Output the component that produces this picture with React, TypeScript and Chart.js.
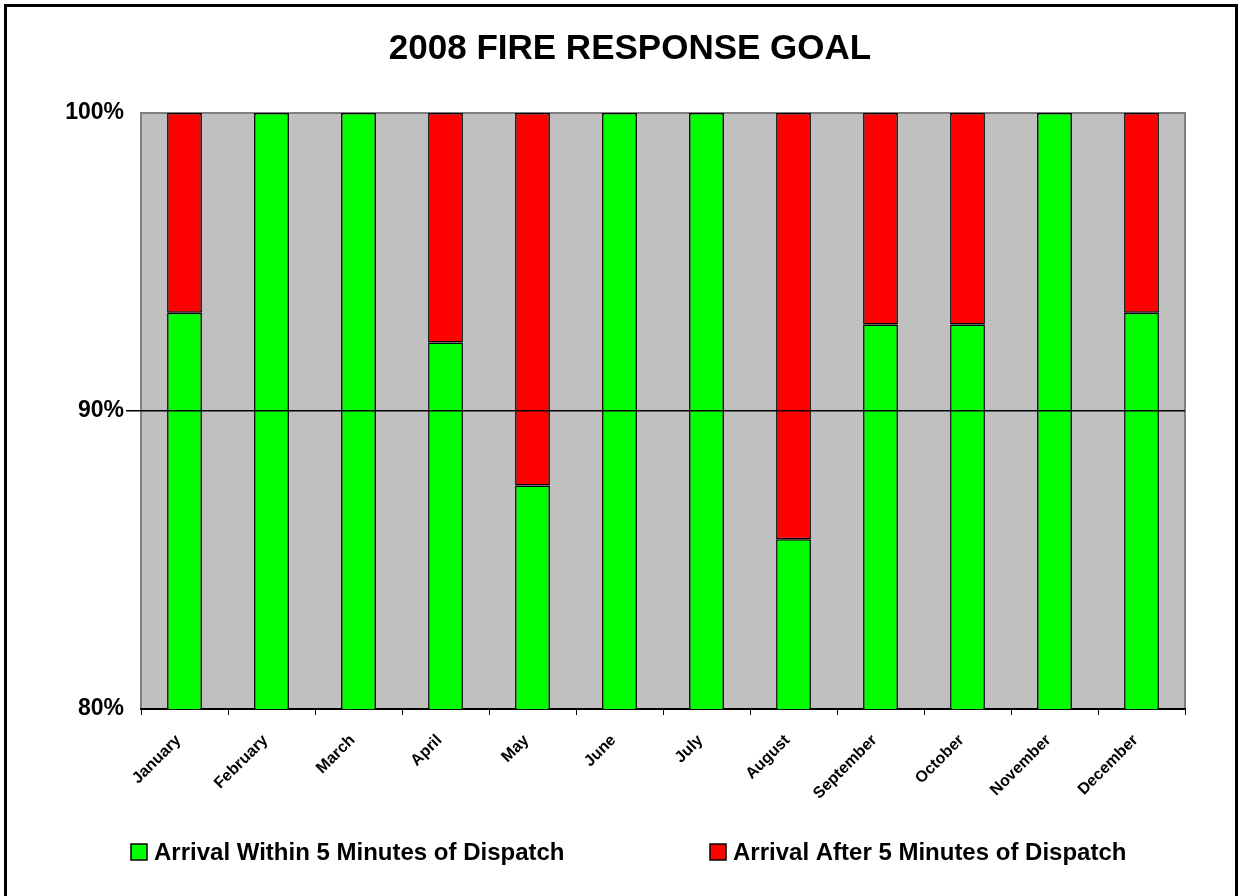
import React, { useEffect, useRef } from "react";
import { Chart, registerables } from "chart.js";

Chart.register(...registerables);

const titleText = "2008 FIRE RESPONSE GOAL";
const months = [
  "January", "February", "March", "April", "May", "June",
  "July", "August", "September", "October", "November", "December",
];
const withinLabel = "Arrival Within 5 Minutes of Dispatch";
const afterLabel = "Arrival After 5 Minutes of Dispatch";
const withinValues = [93.3, 100, 100, 92.3, 87.5, 100, 100, 85.7, 92.9, 92.9, 100, 93.3];
const afterValues = [6.7, 0, 0, 7.7, 12.5, 0, 0, 14.3, 7.1, 7.1, 0, 6.7];
const yTickValues = [80, 90, 100];

const FONT = "'Liberation Sans', Arial, Helvetica, sans-serif";
const GREEN = "#00FF00";
const RED = "#FF0000";

const plotBackground = {
  id: "plotBackground",
  beforeDraw(chart: any) {
    const { ctx, chartArea } = chart;
    if (!chartArea) return;
    ctx.save();
    ctx.fillStyle = "#C0C0C0";
    ctx.fillRect(chartArea.left, chartArea.top, chartArea.right - chartArea.left, chartArea.bottom - chartArea.top);
    ctx.strokeStyle = "#808080";
    ctx.lineWidth = 2;
    ctx.strokeRect(chartArea.left, chartArea.top, chartArea.right - chartArea.left, chartArea.bottom - chartArea.top);
    ctx.restore();
  },
};

const bottomLegend = {
  id: "bottomLegend",
  afterDraw(chart: any, _args: any, opts: any) {
    const { ctx } = chart;
    ctx.save();
    ctx.font = `bold ${opts.fontSize}px ${FONT}`;
    ctx.textBaseline = "middle";
    ctx.textAlign = "left";
    const y = opts.y;
    chart.data.datasets.forEach((ds: any, i: number) => {
      const x = opts.starts[i];
      ctx.fillStyle = ds.backgroundColor;
      ctx.fillRect(x, y - opts.box / 2, opts.box, opts.box);
      ctx.strokeStyle = "#000";
      ctx.lineWidth = 1.5;
      ctx.strokeRect(x, y - opts.box / 2, opts.box, opts.box);
      ctx.fillStyle = "#000";
      ctx.fillText(ds.label, x + opts.box + opts.gap, y + 1);
    });
    ctx.restore();
  },
};

export default function App() {
  const canvasRef = useRef<HTMLCanvasElement | null>(null);

  useEffect(() => {
    if (!canvasRef.current) return;
    const chart = new Chart(canvasRef.current, {
      type: "bar",
      data: {
        labels: months,
        datasets: [
          {
            label: withinLabel,
            data: withinValues,
            backgroundColor: GREEN,
            borderColor: "#000",
            borderWidth: 1.5,
            borderSkipped: false,
            barPercentage: 0.4,
            categoryPercentage: 1,
          },
          {
            label: afterLabel,
            data: afterValues,
            backgroundColor: RED,
            borderColor: "#000",
            borderWidth: 1.5,
            borderSkipped: false,
            barPercentage: 0.4,
            categoryPercentage: 1,
          },
        ],
      },
      options: {
        animation: false,
        responsive: true,
        maintainAspectRatio: false,
        layout: { padding: { left: 58, right: 40, top: 0, bottom: 87 } },
        plugins: {
          legend: { display: false },
          tooltip: { enabled: false },
          title: {
            display: true,
            text: titleText,
            color: "#000",
            font: { family: FONT, size: 35, weight: "bold", lineHeight: 1.2 },
            padding: { top: 21, bottom: 43 },
          },
          bottomLegend: { fontSize: 24, box: 16, gap: 7, starts: [124, 703], y: 845 },
        } as any,
        scales: {
          x: {
            stacked: true,
            afterFit: (s: any) => { s.height = 100; },
            grid: { drawOnChartArea: false, color: "#000", tickLength: 6, offset: true },
            border: { display: true, color: "#000", width: 2 },
            ticks: {
              color: "#000",
              font: { family: FONT, size: 16, weight: "bold" },
              maxRotation: 45,
              minRotation: 45,
              padding: 16,
              labelOffset: -6,
              autoSkip: false,
            },
          },
          y: {
            stacked: true,
            min: 80,
            max: 100,
            afterFit: (s: any) => { s.width = 76; },
            afterBuildTicks: (s: any) => { s.ticks = yTickValues.map((v) => ({ value: v })); },
            border: { display: false },
            grid: {
              z: 1,
              tickLength: 15,
              lineWidth: 1.5,
              color: (c: any) => (c.tick && c.tick.value === 90 ? "#000" : "rgba(0,0,0,0)"),
            },
            ticks: {
              color: "#000",
              padding: 2,
              font: { family: FONT, size: 23, weight: "bold" },
              callback: (v: any) => `${v}%`,
            },
          },
          yRight: {
            position: "right",
            display: true,
            min: 80,
            max: 100,
            afterFit: (s: any) => { s.width = 10; },
            grid: { display: false },
            border: { display: false },
            ticks: { display: false },
          },
        },
      },
      plugins: [plotBackground, bottomLegend],
    });
    return () => chart.destroy();
  }, []);

  return (
    <div
      style={{
        position: "absolute",
        left: 4,
        top: 4,
        width: 1234,
        height: 892,
        boxSizing: "border-box",
        borderTop: "3px solid #000",
        borderLeft: "3px solid #000",
        borderRight: "3px solid #000",
        background: "#fff",
      }}
    >
      <div style={{ position: "relative", width: 1228, height: 889 }}>
        <canvas ref={canvasRef} />
      </div>
    </div>
  );
}
